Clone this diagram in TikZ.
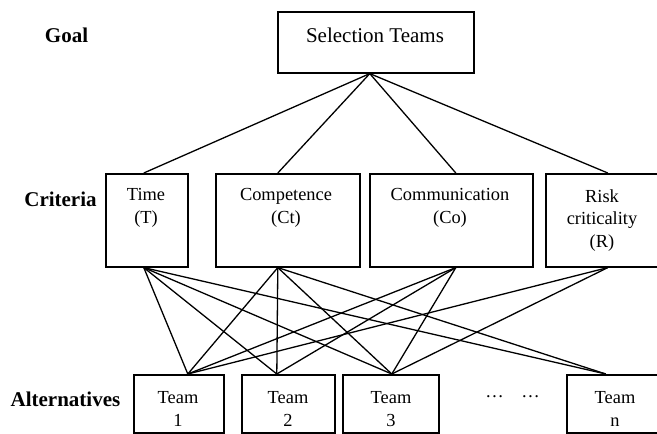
\documentclass[tikz,border=0pt]{standalone}
\usepackage{fontspec}
\setmainfont{Liberation Serif}
\begin{document}
\begin{tikzpicture}[x=1pt,y=-1pt,
  box/.style={draw, line width=1.6pt, inner sep=0pt, anchor=north west},
  link/.style={line width=1.3pt},
  lab/.style={font=\fontsize{21}{25}\selectfont\bfseries, anchor=base, inner sep=0pt},
  txt/.style={font=\fontsize{18.4}{23}\selectfont, anchor=base, inner sep=0pt},
  big/.style={font=\fontsize{21}{25}\selectfont, anchor=base, inner sep=0pt}]
\useasboundingbox (0,0) rectangle (657,434);
\clip (0,0) rectangle (657,434);

% boxes
\node[box, minimum width=196pt, minimum height=61pt] (goal) at (277,11) {};
\node[box, minimum width=82pt,  minimum height=93pt] (time) at (105,173) {};
\node[box, minimum width=144pt, minimum height=93pt] (comp) at (215,173) {};
\node[box, minimum width=163pt, minimum height=93pt] (comm) at (369,173) {};
\node[box, minimum width=115pt, minimum height=93pt] (risk) at (545,173) {};
\node[box, minimum width=90pt,  minimum height=58pt] (t1) at (133,374) {};
\node[box, minimum width=93pt,  minimum height=58pt] (t2) at (241,374) {};
\node[box, minimum width=96pt,  minimum height=58pt] (t3) at (342,374) {};
\node[box, minimum width=98pt,  minimum height=58pt] (tn) at (566,374) {};

% connection points
\coordinate (gB) at ([xshift=-6pt]goal.south);
\coordinate (timeT) at ([xshift=-3pt]time.north);
\coordinate (timeB) at ([xshift=-3pt]time.south);
\coordinate (compT) at ([xshift=-10pt]comp.north);
\coordinate (compB) at ([xshift=-10pt]comp.south);
\coordinate (commT) at ([xshift=4.5pt]comm.north);
\coordinate (commB) at ([xshift=4.5pt]comm.south);
\coordinate (riskT) at ([xshift=4.5pt]risk.north);
\coordinate (riskB) at ([xshift=4.5pt]risk.south);
\coordinate (t1T) at ([xshift=9pt]t1.north);
\coordinate (t2T) at ([xshift=-11.5pt]t2.north);
\coordinate (t3T) at ([xshift=1pt]t3.north);
\coordinate (tnT) at ([xshift=-10pt]tn.north);

% goal to criteria
\foreach \c in {timeT,compT,commT,riskT} \draw[link] (gB) -- (\c);
% criteria to alternatives
\foreach \a in {t1T,t2T,t3T,tnT} \draw[link] (timeB) -- (\a);
\foreach \a in {t1T,t2T,t3T,tnT} \draw[link] (compB) -- (\a);
\foreach \a in {t1T,t2T,t3T} \draw[link] (commB) -- (\a);
\foreach \a in {t1T,t3T} \draw[link] (riskB) -- (\a);

% level labels
\node[lab] (lgoal) at (66.5,42.5) {Goal};
\node[lab] (lcrit) at (60.5,206.5) {Criteria};
\node[lab] (lalt) at (65.5,406.5) {Alternatives};

% texts
\node[big] (sel) at (375,42.5) {Selection Teams};
\node[txt] (x1) at (146,200.5) {Time};
\node[txt] (x2) at (146,223.5) {(T)};
\node[txt] (x3) at (286,200.5) {Competence};
\node[txt] (x4) at (286,223.5) {(Ct)};
\node[txt] (x5) at (450,200.5) {Communication};
\node[txt] (x6) at (450,223.5) {(Co)};
\node[txt] (x7) at (602,202) {Risk};
\node[txt] (x8) at (602,224.5) {criticality};
\node[txt] (x9) at (602,247) {(R)};
\node[txt] (y1) at (178,403.5) {Team};
\node[txt] (y2) at (178,426.5) {1};
\node[txt] (y3) at (288,403.5) {Team};
\node[txt] (y4) at (288,426.5) {2};
\node[txt] (y5) at (391,403.5) {Team};
\node[txt] (y6) at (391,426.5) {3};
\node[txt] (y7) at (615,403.5) {Team};
\node[txt] (y8) at (615,426.5) {n};
\node[txt] (d1) at (494.5,397.5) {…};
\node[txt] (d2) at (530.5,397.5) {…};
\end{tikzpicture}
\end{document}
